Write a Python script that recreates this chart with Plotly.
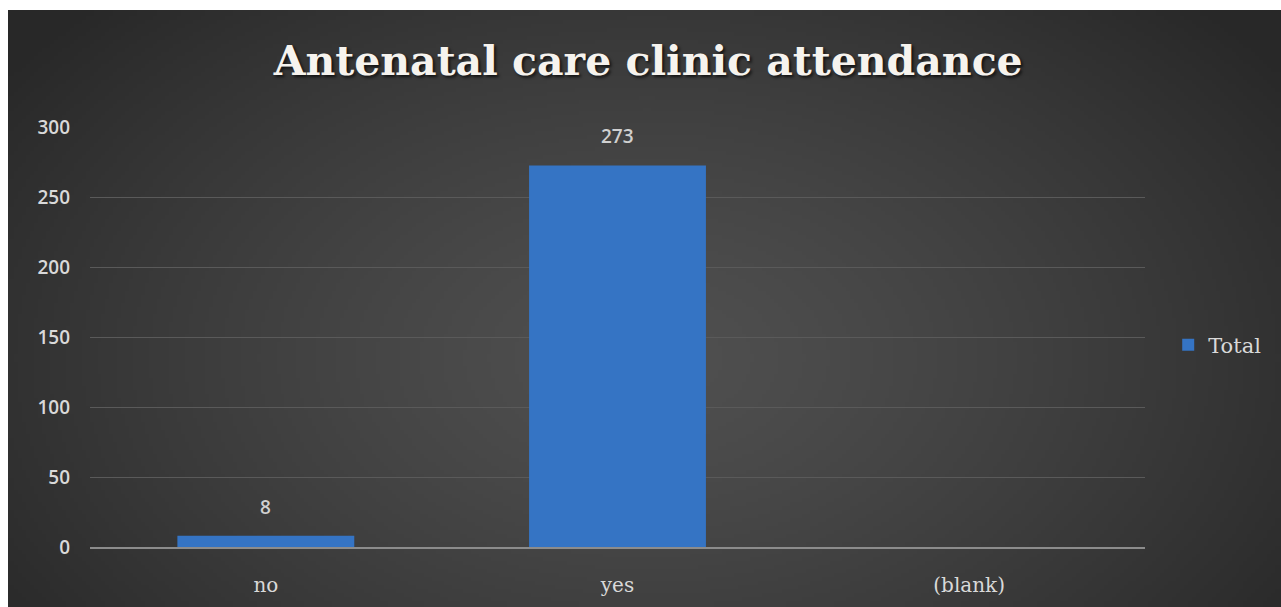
import base64
import struct
import zlib

import numpy as np
import plotly.graph_objects as go

# Chart data
categories = ["no", "yes", "(blank)"]
totals = [8, 273, None]
series_name = "Total"
y_ticks = [0, 50, 100, 150, 200, 250, 300]
chart_title = "Antenatal care clinic attendance"

W, H = 1281, 607
M_L, M_R, M_T, M_B = 90, 136, 127, 60
PLOT_W = W - M_L - M_R
PLOT_H = H - M_T - M_B


def gradient_png(w, h):
    """Radial grey gradient (light centre, dark edges) encoded as a PNG data URI."""
    yy, xx = np.mgrid[0:h, 0:w]
    cx, cy = 0.50 * w, 0.58 * h
    r = np.sqrt(((xx - cx) / (0.62 * w)) ** 2 + ((yy - cy) / (0.85 * h)) ** 2)
    r = np.clip(r, 0, 1)
    centre, edge = 80.0, 40.0
    val = (centre - (centre - edge) * r ** 1.3).astype(np.uint8)
    raw = b"".join(b"\x00" + val[i].tobytes() for i in range(h))

    def chunk(tag, data):
        c = struct.pack(">I", len(data)) + tag + data
        return c + struct.pack(">I", zlib.crc32(tag + data) & 0xFFFFFFFF)

    png = b"\x89PNG\r\n\x1a\n"
    png += chunk(b"IHDR", struct.pack(">IIBBBBB", w, h, 8, 0, 0, 0, 0))
    png += chunk(b"IDAT", zlib.compress(raw, 9))
    png += chunk(b"IEND", b"")
    return "data:image/png;base64," + base64.b64encode(png).decode()


fig = go.Figure()
fig.add_trace(
    go.Bar(
        x=categories,
        y=totals,
        name=series_name,
        marker=dict(color="#3574C4", line=dict(width=0)),
        showlegend=True,
        hoverinfo="x+y",
    )
)

# value labels above each bar
for cat, val in zip(categories, totals):
    if val is None:
        continue
    fig.add_annotation(
        x=cat, y=val, text=str(val), showarrow=False,
        yanchor="middle", yshift=29,
        font=dict(family="Open Sans", size=19, color="#d0d0d0", weight=600),
    )

# dark panel with soft radial light (starts a few px in from the top-left corner)
px0, py0 = 8, 10
fig.add_layout_image(
    source=gradient_png(320, 150),
    xref="paper", yref="paper",
    x=(px0 - M_L) / PLOT_W, y=(H - M_B - py0) / PLOT_H,
    sizex=(W - px0) / PLOT_W, sizey=(H - py0) / PLOT_H,
    xanchor="left", yanchor="top",
    sizing="stretch", layer="below",
)

fig.update_layout(
    width=W, height=H,
    margin=dict(l=M_L, r=M_R, t=M_T, b=M_B, autoexpand=False),
    paper_bgcolor="white",
    plot_bgcolor="rgba(0,0,0,0)",
    bargap=0.497,
    title=dict(
        text=chart_title,
        x=0.506, xref="container", xanchor="center",
        y=1 - 61 / H, yref="container", yanchor="middle",
        font=dict(family="DejaVu Serif", size=41, color="#f6f3ee", weight="bold",
                  shadow="2px 2px 3px rgba(0,0,0,0.7)"),
    ),
    legend=dict(
        x=1.022, y=0.481, xanchor="left", yanchor="middle",
        bgcolor="rgba(0,0,0,0)",
        font=dict(family="DejaVu Serif", size=21, color="#d9d9d9"),
        itemclick=False,
    ),
    xaxis=dict(
        type="category",
        showgrid=False,
        showline=True, linecolor="#8c8c8c", linewidth=2,
        ticks="", ticklabelstandoff=19,
        tickfont=dict(family="DejaVu Serif", size=20, color="#d9d9d9"),
        fixedrange=True,
    ),
    yaxis=dict(
        range=[0, 300.5],
        tickvals=y_ticks,
        showgrid=True, gridcolor="#5a5a5a", gridwidth=1,
        zeroline=False, showline=False,
        ticks="", ticklabelstandoff=19,
        tickfont=dict(family="Open Sans", size=19, color="#d9d9d9", weight=600),
        fixedrange=True,
    ),
)

fig.write_html("out.html")
